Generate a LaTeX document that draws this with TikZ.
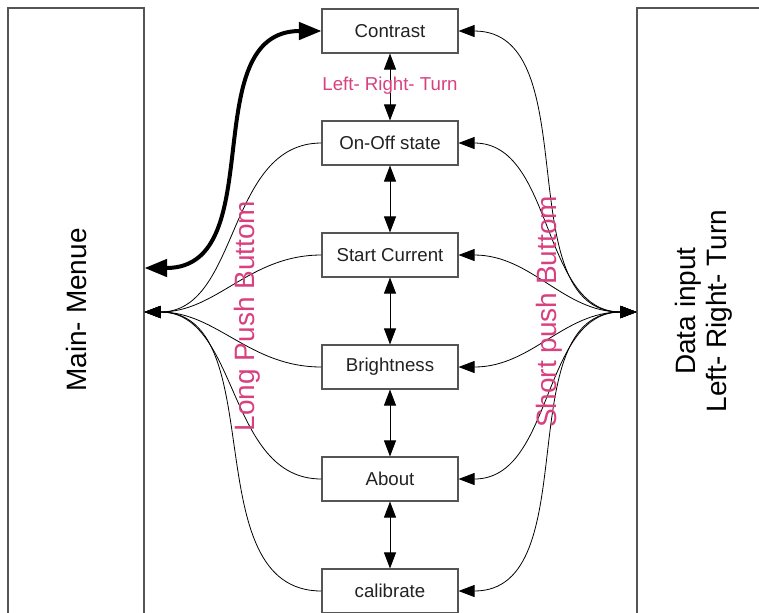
\documentclass[tikz,border=0pt]{standalone}
\usepackage{fontspec}
\setmainfont{Liberation Sans}
\usetikzlibrary{arrows.meta}
\definecolor{mPink}{HTML}{D8407F}
\definecolor{mEdge}{HTML}{555555}
\definecolor{mText}{HTML}{222222}

\begin{document}
\begin{tikzpicture}[
  x=0.75pt, y=-0.75pt,
  hd/.tip={Triangle[length=12pt, width=9pt]},
  hv/.tip={Triangle[length=17pt, width=13pt]},
  menu/.style={draw=mEdge, line width=0.8pt, minimum width=102pt, minimum height=33pt,
    inner sep=0pt, font=\fontsize{14}{16}\selectfont, text=mText},
  side/.style={draw=mEdge, line width=0.8pt, minimum width=102pt, minimum height=519pt, inner sep=0pt},
  big/.style={font=\fontsize{21}{23}\selectfont, rotate=90, align=center},
  note/.style={text=mPink},
  link/.style={line width=0.6pt, -hd},
  both/.style={line width=0.6pt, hd-hd},
  heavy/.style={line width=3pt, hv-hv},
]
  \useasboundingbox (0,0) rectangle (759,612);
  \clip (0,0) rectangle (759,612);
  \fill[white] (0,0) rectangle (759,612);

  \node[side] (mainbox) at (76,354) {};
  \node[side] (databox) at (705,354) {};
  \node[big] (maintxt) at (76,310) {Main- Menue};
  \node[big] (datatxt) at (704,311) {Data input\\Left- Right- Turn};

  \node[menu] (contrast) at (390,31) {Contrast};
  \node[menu] (onoff) at (390,143) {On-Off state};
  \node[menu] (current) at (390,255) {Start Current};
  \node[menu] (bright) at (390,367) {Brightness};
  \node[menu] (about) at (390,479) {About};
  \node[menu] (calib) at (390,591) {calibrate};

  \coordinate (fanL) at (mainbox.east |- 0,312);
  \coordinate (fanR) at (databox.west |- 0,312);
  \coordinate (heavyL) at (mainbox.east |- 0,268);

  \draw[both] (contrast) -- (onoff);
  \draw[both] (onoff) -- (current);
  \draw[both] (current) -- (bright);
  \draw[both] (bright) -- (about);
  \draw[both] (about) -- (calib);

  \draw[heavy] (heavyL) to[out=0, in=180, looseness=1.1] (contrast.west);

  \draw[link] (onoff.west) to[out=180, in=0] (fanL);
  \draw[link] (current.west) to[out=180, in=0] (fanL);
  \draw[link] (bright.west) to[out=180, in=0] (fanL);
  \draw[link] (about.west) to[out=180, in=0] (fanL);
  \draw[link] (calib.west) to[out=180, in=0] (fanL);

  \draw[both] (fanR) to[out=180, in=0] (contrast.east);
  \draw[both] (fanR) to[out=180, in=0] (onoff.east);
  \draw[both] (fanR) to[out=180, in=0] (current.east);
  \draw[both] (fanR) to[out=180, in=0] (bright.east);
  \draw[both] (fanR) to[out=180, in=0] (about.east);
  \draw[both] (fanR) to[out=180, in=0] (calib.east);

  \node[note, font=\fontsize{14}{16}\selectfont] (turnlbl) at (390,86) {Left- Right- Turn};
  \node[note, big] (longlbl) at (247,316) {Long Push Buttom};
  \node[note, big] (shortlbl) at (549,312) {Short push Buttom};
\end{tikzpicture}
\end{document}
